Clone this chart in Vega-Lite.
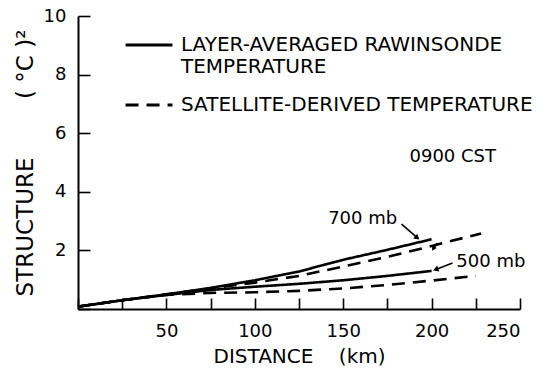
{
  "$schema": "https://vega.github.io/schema/vega-lite/v6.json",
  "width": 442,
  "height": 293,
  "autosize": {"type": "none"},
  "padding": {"left": 78, "top": 16, "right": 19, "bottom": 59},
  "background": "white",
  "config": {
    "view": {"stroke": null},
    "font": "DejaVu Sans",
    "axis": {
      "domainColor": "black",
      "domainWidth": 2,
      "tickColor": "black",
      "tickWidth": 1.6,
      "labelColor": "black",
      "titleColor": "black",
      "labelFont": "DejaVu Sans",
      "titleFont": "DejaVu Sans",
      "labelFontSize": 18,
      "titleFontSize": 20,
      "titleFontWeight": "normal",
      "grid": false
    }
  },
  "datasets": {
    "curves": [
      {"km": 0, "value": 0.08, "level": "700 mb", "source": "LAYER-AVERAGED RAWINSONDE|TEMPERATURE"},
      {"km": 25, "value": 0.3, "level": "700 mb", "source": "LAYER-AVERAGED RAWINSONDE|TEMPERATURE"},
      {"km": 50, "value": 0.5, "level": "700 mb", "source": "LAYER-AVERAGED RAWINSONDE|TEMPERATURE"},
      {"km": 75, "value": 0.72, "level": "700 mb", "source": "LAYER-AVERAGED RAWINSONDE|TEMPERATURE"},
      {"km": 100, "value": 0.98, "level": "700 mb", "source": "LAYER-AVERAGED RAWINSONDE|TEMPERATURE"},
      {"km": 125, "value": 1.28, "level": "700 mb", "source": "LAYER-AVERAGED RAWINSONDE|TEMPERATURE"},
      {"km": 150, "value": 1.68, "level": "700 mb", "source": "LAYER-AVERAGED RAWINSONDE|TEMPERATURE"},
      {"km": 175, "value": 2.02, "level": "700 mb", "source": "LAYER-AVERAGED RAWINSONDE|TEMPERATURE"},
      {"km": 200, "value": 2.38, "level": "700 mb", "source": "LAYER-AVERAGED RAWINSONDE|TEMPERATURE"},
      {"km": 0, "value": 0.08, "level": "500 mb", "source": "LAYER-AVERAGED RAWINSONDE|TEMPERATURE"},
      {"km": 25, "value": 0.3, "level": "500 mb", "source": "LAYER-AVERAGED RAWINSONDE|TEMPERATURE"},
      {"km": 50, "value": 0.48, "level": "500 mb", "source": "LAYER-AVERAGED RAWINSONDE|TEMPERATURE"},
      {"km": 75, "value": 0.65, "level": "500 mb", "source": "LAYER-AVERAGED RAWINSONDE|TEMPERATURE"},
      {"km": 100, "value": 0.76, "level": "500 mb", "source": "LAYER-AVERAGED RAWINSONDE|TEMPERATURE"},
      {"km": 125, "value": 0.86, "level": "500 mb", "source": "LAYER-AVERAGED RAWINSONDE|TEMPERATURE"},
      {"km": 150, "value": 0.98, "level": "500 mb", "source": "LAYER-AVERAGED RAWINSONDE|TEMPERATURE"},
      {"km": 175, "value": 1.13, "level": "500 mb", "source": "LAYER-AVERAGED RAWINSONDE|TEMPERATURE"},
      {"km": 200, "value": 1.3, "level": "500 mb", "source": "LAYER-AVERAGED RAWINSONDE|TEMPERATURE"},
      {"km": 0, "value": 0.08, "level": "700 mb", "source": "SATELLITE-DERIVED TEMPERATURE"},
      {"km": 25, "value": 0.3, "level": "700 mb", "source": "SATELLITE-DERIVED TEMPERATURE"},
      {"km": 50, "value": 0.5, "level": "700 mb", "source": "SATELLITE-DERIVED TEMPERATURE"},
      {"km": 75, "value": 0.7, "level": "700 mb", "source": "SATELLITE-DERIVED TEMPERATURE"},
      {"km": 100, "value": 0.9, "level": "700 mb", "source": "SATELLITE-DERIVED TEMPERATURE"},
      {"km": 125, "value": 1.13, "level": "700 mb", "source": "SATELLITE-DERIVED TEMPERATURE"},
      {"km": 150, "value": 1.45, "level": "700 mb", "source": "SATELLITE-DERIVED TEMPERATURE"},
      {"km": 175, "value": 1.78, "level": "700 mb", "source": "SATELLITE-DERIVED TEMPERATURE"},
      {"km": 200, "value": 2.15, "level": "700 mb", "source": "SATELLITE-DERIVED TEMPERATURE"},
      {"km": 228, "value": 2.58, "level": "700 mb", "source": "SATELLITE-DERIVED TEMPERATURE"},
      {"km": 0, "value": 0.08, "level": "500 mb", "source": "SATELLITE-DERIVED TEMPERATURE"},
      {"km": 25, "value": 0.3, "level": "500 mb", "source": "SATELLITE-DERIVED TEMPERATURE"},
      {"km": 50, "value": 0.48, "level": "500 mb", "source": "SATELLITE-DERIVED TEMPERATURE"},
      {"km": 75, "value": 0.55, "level": "500 mb", "source": "SATELLITE-DERIVED TEMPERATURE"},
      {"km": 100, "value": 0.57, "level": "500 mb", "source": "SATELLITE-DERIVED TEMPERATURE"},
      {"km": 125, "value": 0.62, "level": "500 mb", "source": "SATELLITE-DERIVED TEMPERATURE"},
      {"km": 150, "value": 0.7, "level": "500 mb", "source": "SATELLITE-DERIVED TEMPERATURE"},
      {"km": 175, "value": 0.82, "level": "500 mb", "source": "SATELLITE-DERIVED TEMPERATURE"},
      {"km": 200, "value": 0.97, "level": "500 mb", "source": "SATELLITE-DERIVED TEMPERATURE"},
      {"km": 225, "value": 1.13, "level": "500 mb", "source": "SATELLITE-DERIVED TEMPERATURE"}
    ],
    "notes": [
      {"text": "700 mb", "km": 141.5, "value": 3.07},
      {"text": "500 mb", "km": 214, "value": 1.6},
      {"text": "0900 CST", "km": 187.5, "value": 5.18}
    ],
    "arrows": [
      {"name": "700 mb", "km": 183, "value": 2.9, "km2": 191.5, "value2": 2.45},
      {"name": "700 mb dashed", "km": 203.3, "value": 2.25, "km2": 201.2, "value2": 2.08},
      {"name": "500 mb", "km": 211.8, "value": 1.57, "km2": 202.8, "value2": 1.36}
    ]
  },
  "layer": [
    {
      "data": {"name": "curves"},
      "mark": {"type": "line", "color": "black", "strokeWidth": 2.6, "strokeCap": "butt"},
      "encoding": {
        "x": {
          "field": "km", "type": "quantitative",
          "scale": {"domain": [0, 250], "nice": false},
          "axis": {
            "title": "DISTANCE\u00a0\u00a0\u00a0\u00a0(km)",
            "values": [0, 25, 50, 75, 100, 125, 150, 175, 200, 225, 250],
            "labelExpr": "datum.value % 50 == 0 && datum.value > 0 ? datum.label : ''",
            "tickSize": -11,
            "labelPadding": 24,
            "titlePadding": 6
          }
        },
        "y": {
          "field": "value", "type": "quantitative",
          "scale": {"domain": [0, 10], "nice": false},
          "axis": {
            "title": "STRUCTURE\u00a0\u00a0\u00a0\u00a0\u00a0\u00a0\u00a0\u00a0(\u00a0°C\u00a0)²",
            "values": [0, 1, 2, 3, 4, 5, 6, 7, 8, 9, 10],
            "labelExpr": "datum.value % 2 == 0 && datum.value > 0 ? datum.label : ''",
            "tickSize": -12,
            "labelPadding": 24,
            "titleFontSize": 23,
            "titlePadding": 6
          }
        },
        "strokeDash": {
          "field": "source", "type": "nominal",
          "scale": {
            "domain": ["LAYER-AVERAGED RAWINSONDE|TEMPERATURE", "SATELLITE-DERIVED TEMPERATURE"],
            "range": [[1, 0], [13, 8]]
          },
          "legend": {
            "title": null,
            "orient": "none",
            "legendX": 46,
            "legendY": 4,
            "symbolType": "stroke",
            "symbolSize": 2200,
            "symbolStrokeWidth": 2.8,
            "symbolStrokeColor": "black",
            "labelFont": "DejaVu Sans",
            "labelFontSize": 20,
            "labelColor": "black",
            "labelExpr": "split(datum.label, '|')",
            "labelLimit": 0,
            "labelOffset": 7,
            "rowPadding": 3
          }
        },
        "detail": {"field": "level"}
      }
    },
    {
      "data": {"name": "notes"},
      "mark": {"type": "text", "align": "left", "baseline": "middle", "fontSize": 18, "color": "black", "font": "DejaVu Sans"},
      "encoding": {
        "x": {"field": "km", "type": "quantitative"},
        "y": {"field": "value", "type": "quantitative"},
        "text": {"field": "text"},
        "size": {
          "field": "text", "type": "nominal", "legend": null,
          "scale": {"domain": ["700 mb", "500 mb", "0900 CST"], "range": [18, 18, 21]}
        }
      }
    },
    {
      "data": {"name": "arrows"},
      "mark": {"type": "rule", "color": "black", "strokeWidth": 1.6},
      "encoding": {
        "x": {"field": "km", "type": "quantitative"},
        "y": {"field": "value", "type": "quantitative"},
        "x2": {"field": "km2"},
        "y2": {"field": "value2"}
      }
    },
    {
      "data": {"name": "arrows"},
      "transform": [{"filter": "datum.name == '700 mb'"}],
      "mark": {"type": "point", "shape": "triangle", "filled": true, "color": "black", "size": 40, "angle": 131, "opacity": 1},
      "encoding": {
        "x": {"field": "km2", "type": "quantitative"},
        "y": {"field": "value2", "type": "quantitative"}
      }
    },
    {
      "data": {"name": "arrows"},
      "transform": [{"filter": "datum.name == '700 mb dashed'"}],
      "mark": {"type": "point", "shape": "triangle", "filled": true, "color": "black", "size": 30, "angle": 210, "opacity": 1},
      "encoding": {
        "x": {"field": "km2", "type": "quantitative"},
        "y": {"field": "value2", "type": "quantitative"}
      }
    },
    {
      "data": {"name": "arrows"},
      "transform": [{"filter": "datum.name == '500 mb'"}],
      "mark": {"type": "point", "shape": "triangle", "filled": true, "color": "black", "size": 40, "angle": 249, "opacity": 1},
      "encoding": {
        "x": {"field": "km2", "type": "quantitative"},
        "y": {"field": "value2", "type": "quantitative"}
      }
    }
  ]
}
